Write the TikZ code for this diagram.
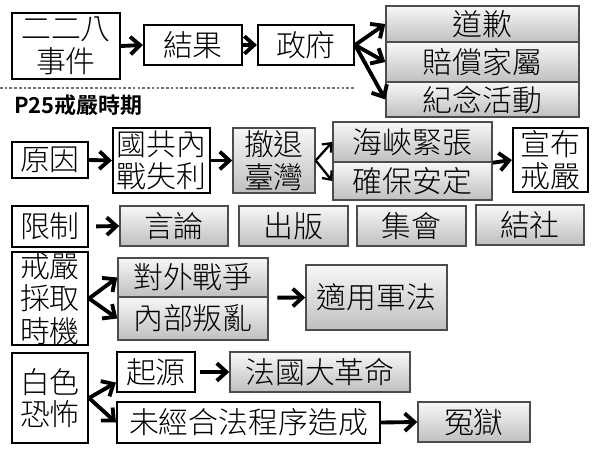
\documentclass[tikz,border=0pt]{standalone}
\usepackage{fontspec}
\setmainfont{Noto Sans CJK TC}[UprightFont=* Light, BoldFont=* Bold]
\usetikzlibrary{arrows.meta,calc}
\tikzset{
  base/.style={inner sep=0pt, align=center, font=\fontsize{17pt}{18.5pt}\selectfont},
  wbox/.style={base, draw=black, line width=1.2pt, fill=white},
  gbox/.style={base, draw=black!70, line width=0.8pt, top color=black!3, bottom color=black!25},
  arr/.style={line width=2.2pt, -{Straight Barb[length=5.5pt,width=10pt]}},
  thinarr/.style={line width=1.3pt, -{Straight Barb[length=4pt,width=7pt]}},
  sz/.style 2 args={minimum width=#1*0.02cm, minimum height=#2*0.02cm},
}
\begin{document}
\begin{tikzpicture}[x=0.02cm,y=-0.02cm]
\useasboundingbox (0,0) rectangle (600,450);
% row 1
\node[wbox, sz={108}{66}] (n228) at (66,46) {二二八\\事件};
\node[wbox, sz={98}{40}] (res) at (193,45) {結果};
\node[wbox, sz={96}{40}] (gov) at (306,45) {政府};
\node[gbox, sz={193}{36}] (dq) at (482.5,24) {道歉};
\node[gbox, sz={193}{40}] (pc) at (482.5,62) {賠償家屬};
\node[gbox, sz={193}{35}] (jn) at (482.5,99.5) {紀念活動};
\draw[arr] (n228.east) -- (res.west);
\draw[arr] (res.east) -- (gov.west);
\draw[arr] (gov.east) -- (dq.west);
\draw[arr] (gov.east) -- (pc.west);
\draw[arr] (gov.east) -- (jn.west);
% separator and title
\draw[black!55, line width=0.6pt, dash pattern=on 1.5pt off 1.2pt] (0,88) -- (355,88);
\node[anchor=west, inner sep=0pt, font=\fontsize{12.5pt}{14pt}\selectfont\bfseries] (title) at (14,105) {P25戒嚴時期};
% row 2
\node[wbox, sz={76}{36}] (yy) at (50,160) {原因};
\node[wbox, sz={97}{65}] (gc) at (161.5,160.5) {國共內\\戰失利};
\node[gbox, sz={82}{65}] (ct) at (274,160.5) {撤退\\臺灣};
\node[gbox, sz={159}{40}] (hx) at (412.5,142) {海峽緊張};
\node[gbox, sz={159}{38}] (qb) at (412.5,181) {確保安定};
\node[wbox, sz={75}{64}] (xb) at (550.5,160) {宣布\\戒嚴};
\draw[arr] (yy.east) -- (gc.west);
\draw[arr] (gc.east) -- (ct.west);
\draw[thinarr] (ct.east) -- (hx.west);
\draw[thinarr] (ct.east) -- (qb.west);
\draw[arr] (hx.south east) -- (xb.west);
% row 3
\node[wbox, sz={76}{41}] (xz) at (50,226.5) {限制};
\node[gbox, sz={108}{40}] (yl) at (174,226) {言論};
\node[gbox, sz={109}{40}] (cb) at (293.5,226) {出版};
\node[gbox, sz={109}{40}] (jh) at (411.5,226) {集會};
\node[gbox, sz={108}{40}] (js) at (530,225) {結社};
\draw[arr, shorten <=4pt] (xz.east) -- (yl.west);
% row 4
\node[wbox, sz={76}{91}] (sj) at (50,298.5) {戒嚴\\採取\\時機};
\node[gbox, sz={150}{39}] (dw) at (193,277.5) {對外戰爭};
\node[gbox, sz={150}{43}] (nb) at (193,318.5) {內部叛亂};
\node[gbox, sz={141}{65}] (jf) at (376.5,297.5) {適用軍法};
\draw[arr] (sj.east) -- (dw.west);
\draw[arr] (sj.east) -- (nb.west);
\draw[arr, shorten <=5pt] (dw.south east) -- (jf.west);
% row 5
\node[wbox, sz={76}{90}] (bs) at (50,398) {白色\\恐怖};
\node[wbox, sz={78}{40}] (qy) at (156,372) {起源};
\node[gbox, sz={180}{40}] (fg) at (320,372) {法國大革命};
\node[wbox, sz={263}{41}] (wj) at (248.5,422.5) {未經合法程序造成};
\node[gbox, sz={112}{40}] (yj) at (474,422) {冤獄};
\draw[arr] (bs.east) -- ($(qy.west)!0.5!(qy.south west)$);
\draw[arr] (bs.east) -- (wj.west);
\draw[arr, shorten <=2pt] (qy.east) -- (fg.west);
\draw[arr] (wj.east) -- (yj.west);
\end{tikzpicture}
\end{document}
